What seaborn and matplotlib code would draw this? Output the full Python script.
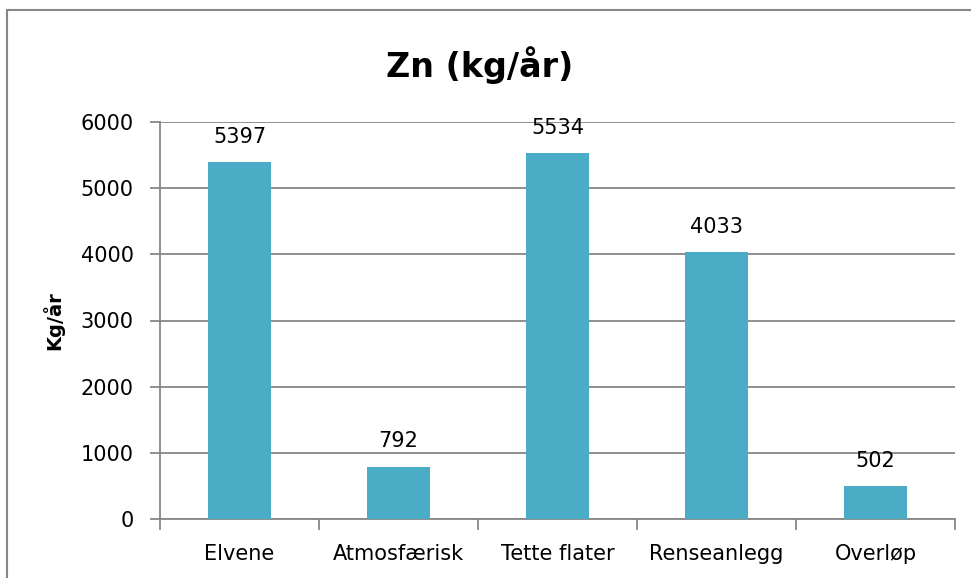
import matplotlib
matplotlib.use("Agg")
import matplotlib.pyplot as plt
import seaborn as sns
import pandas as pd
from matplotlib.patches import Rectangle

categories = ["Elvene", "Atmosfærisk", "Tette flater", "Renseanlegg", "Overløp"]
values = [5397, 792, 5534, 4033, 502]
y_ticks = [0, 1000, 2000, 3000, 4000, 5000, 6000]

BAR_COLOR = "#4BACC6"
GRID_COLOR = "#878787"

sns.set_style("white")
plt.rcParams["font.family"] = ["DejaVu Sans"]
plt.rcParams["text.color"] = "black"
plt.rcParams["axes.labelcolor"] = "black"
plt.rcParams["xtick.labelcolor"] = "black"
plt.rcParams["ytick.labelcolor"] = "black"

df = pd.DataFrame({"Kilde": categories, "Zn": values})

fig = plt.figure(figsize=(9.71, 5.78), dpi=100)
ax = fig.add_axes([160 / 971, 1 - 519 / 578, 795 / 971, 397 / 578])

sns.barplot(data=df, x="Kilde", y="Zn", color=BAR_COLOR, width=0.4,
            saturation=1, edgecolor="none", ax=ax, zorder=3)

ax.set_xlim(-0.5, len(categories) - 0.5)
ax.set_ylim(0, 6000)
ax.set_yticks(y_ticks)
ax.set_yticklabels([str(t) for t in y_ticks], fontsize=15)
ax.yaxis.grid(True, color=GRID_COLOR, linewidth=1.3, zorder=0)
ax.set_axisbelow(True)

# x ticks at category boundaries, labels in the middle
ax.set_xticks([i - 0.5 for i in range(len(categories) + 1)])
ax.set_xticklabels([])
ax.set_xticks(range(len(categories)), minor=True)
ax.set_xticklabels(categories, minor=True, fontsize=15)
ax.tick_params(axis="x", which="major", direction="out", length=8,
               width=1.3, color=GRID_COLOR, bottom=True)
ax.tick_params(axis="x", which="minor", length=0, pad=18, labelcolor="black")
ax.tick_params(axis="y", direction="out", length=7, width=1.3,
               color=GRID_COLOR, left=True, pad=12, labelcolor="black")

for side in ["top", "right"]:
    ax.spines[side].set_visible(False)
for side in ["left", "bottom"]:
    ax.spines[side].set_color(GRID_COLOR)
    ax.spines[side].set_linewidth(1.3)

for i, v in enumerate(values):
    ax.text(i, v + 230, str(v), ha="center", va="bottom", fontsize=15,
            color="black")

ax.set_xlabel("")
ax.set_ylabel("Kg/år", fontsize=14, fontweight="bold", labelpad=12,
              color="black")
fig.text(0.494, 1 - 65 / 578, "Zn (kg/år)", ha="center", va="center",
         fontsize=24, fontweight="bold", color="black")

# chart border
fig.patches.append(Rectangle((7 / 971, -0.1), 1.1, 1 - 10.5 / 578 + 0.1,
                             transform=fig.transFigure, fill=False,
                             edgecolor=GRID_COLOR, linewidth=1.5))

fig.savefig("out.png", dpi=100)
